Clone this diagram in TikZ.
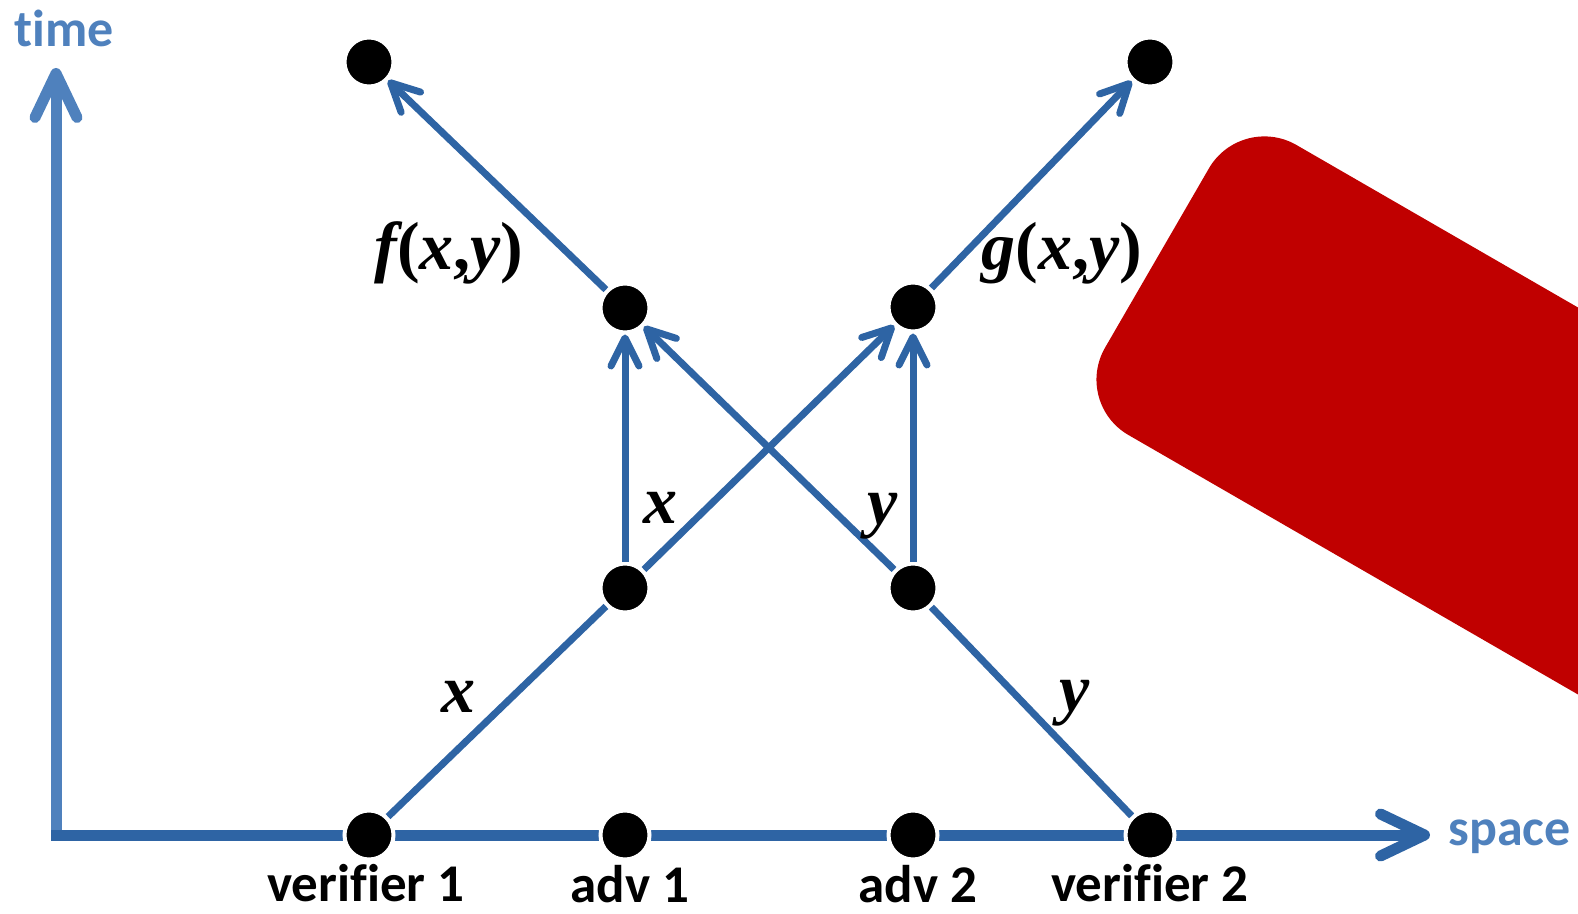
\documentclass[tikz,border=0pt]{standalone}
\usepackage{fontspec}
\setmainfont{Carlito}[Ligatures={NoCommon}]
\newfontfamily\mathserif{Liberation Serif}[Ligatures={NoCommon}]
\usetikzlibrary{arrows.meta}
\definecolor{axblue}{HTML}{4F81BD}
\definecolor{lnblue}{HTML}{2E64A4}
\definecolor{advred}{HTML}{C00000}
\newcommand{\vi}[1]{{\itshape #1}}
\tikzset{
  dot/.style={circle, fill=black, draw=white, line width=2pt, minimum size=24.5pt, inner sep=0pt},
  msg/.style={draw=lnblue, line width=3.5pt},
  msgarr/.style={msg, -{Straight Barb[length=14pt,width=14pt,round]}},
  hax/.style={draw=lnblue, line width=5.5pt, -{Straight Barb[length=22pt,width=21pt,round]}},
  vax/.style={draw=axblue, line width=5.5pt, -{Straight Barb[length=22pt,width=21pt,round]}},
  axlab/.style={text=axblue, font=\fontsize{26}{30}\selectfont\bfseries, inner sep=0pt},
  plab/.style={font=\fontsize{26.5}{30}\selectfont\bfseries, inner sep=0pt, anchor=base},
  mlab/.style={font=\fontsize{34}{40}\selectfont\mathserif\bfseries, inner sep=0pt},
}
\begin{document}
\begin{tikzpicture}[x=0.5pt,y=-0.5pt]
\useasboundingbox (0,0) rectangle (1578,914);
\begin{scope}
  \clip (0,0) rectangle (1578,914);
  \fill[advred, rounded corners=32pt] (1157,258) -- (1241,113) -- (1934,513) -- (1766,803) -- (1073,403) -- cycle;
\end{scope}
% axes
\coordinate (O) at (51,835);
\coordinate (Xend) at (1430,835);
\coordinate (Ob) at (56,832);
\coordinate (Tend) at (56,68);
\draw[vax] (Ob) -- (Tend);
\draw[hax] (O) -- (Xend);
% events
\node[dot] (v1) at (369,835) {};
\node[dot] (a1) at (625,835) {};
\node[dot] (a2) at (913,835) {};
\node[dot] (v2) at (1150,835) {};
\node[dot] (m1) at (625,588) {};
\node[dot] (m2) at (913,588) {};
\node[dot] (u1) at (625,308) {};
\node[dot] (u2) at (913,307) {};
\node[dot] (t1) at (369,62) {};
\node[dot] (t2) at (1150,62) {};
% messages
\draw[msg] (v1) -- (m1);
\draw[msgarr] (m1) -- (u1);
\draw[msgarr] (m1) -- (u2);
\draw[msgarr] (m2) -- (u1);
\draw[msgarr] (m2) -- (u2);
\draw[msg] (v2) -- (m2);
\draw[msgarr] (u1) -- (t1);
\draw[msgarr] (u2) -- (t2);
% labels
\node[axlab, anchor=base] (time) at (64,47) {time};
\node[axlab, anchor=base west] (space) at (1448,845) {space};
\node[plab] (lv1) at (366,901) {verifier 1};
\node[plab] (la1) at (630,902) {adv 1};
\node[plab] (la2) at (918,902) {adv 2};
\node[plab] (lv2) at (1150,901) {verifier 2};
\node[mlab] (fl) at (449,253) {\vi{f}(\vi{x},\vi{y})};
\node[mlab] (gl) at (1062,253) {\vi{g}(\vi{x},\vi{y})};
\node[mlab] (x1) at (660,508) {\vi{x}};
\node[mlab] (y1) at (883,516) {\vi{y}};
\node[mlab] (x0) at (458,697) {\vi{x}};
\node[mlab] (y0) at (1075,703) {\vi{y}};
\end{tikzpicture}
\end{document}
